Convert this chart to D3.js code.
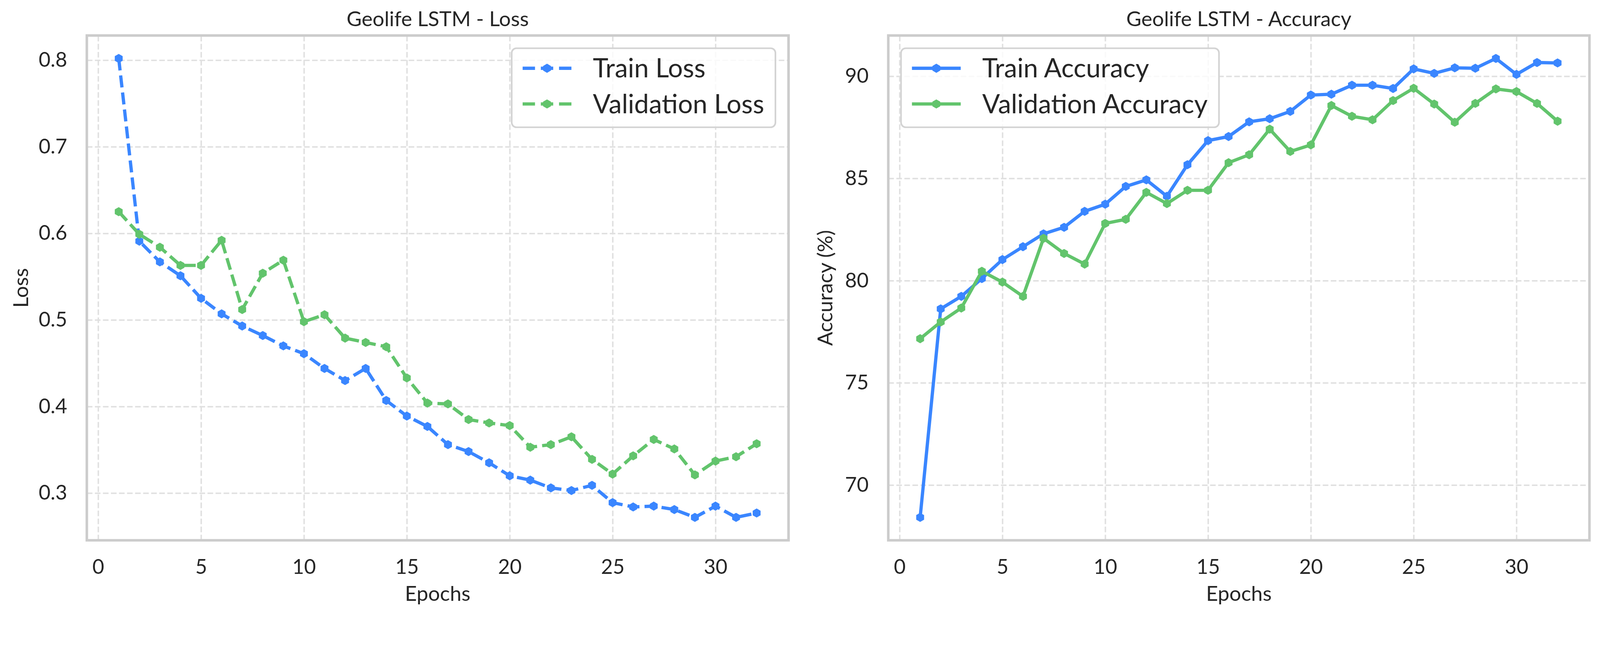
<!DOCTYPE html>
<html>
<head>
<meta charset="utf-8">
<script src="https://cdn.jsdelivr.net/npm/d3@7"></script>
<style>
  html, body { margin: 0; padding: 0; background: #fff; overflow: hidden; width: 100%; height: 100%; }
  #chart { display: block; width: 100vw; height: 100vh; }
  svg text { font-family: Lato, "Open Sans", sans-serif; fill: #262626; }
</style>
</head>
<body>
<svg id="chart" viewBox="0 0 4395 1692" preserveAspectRatio="xMidYMin meet"></svg>
<script>
var epochs = [1, 2, 3, 4, 5, 6, 7, 8, 9, 10, 11, 12, 13, 14, 15, 16,
              17, 18, 19, 20, 21, 22, 23, 24, 25, 26, 27, 28, 29, 30, 31, 32];

var trainLoss = [0.802, 0.591, 0.567, 0.551, 0.525, 0.507, 0.493, 0.482, 0.470, 0.461, 0.444,
                 0.430, 0.444, 0.407, 0.389, 0.377, 0.356, 0.348, 0.335, 0.320, 0.315, 0.306,
                 0.303, 0.309, 0.289, 0.284, 0.285, 0.281, 0.272, 0.285, 0.272, 0.277];
var valLoss = [0.625, 0.599, 0.584, 0.563, 0.563, 0.592, 0.512, 0.554, 0.569, 0.498, 0.506,
               0.479, 0.474, 0.469, 0.433, 0.404, 0.403, 0.385, 0.381, 0.378, 0.353, 0.356,
               0.365, 0.339, 0.322, 0.343, 0.362, 0.351, 0.321, 0.337, 0.342, 0.357];

var trainAcc = [68.42, 78.62, 79.23, 80.10, 81.03, 81.66, 82.29, 82.61, 83.39, 83.74, 84.61,
                84.93, 84.13, 85.67, 86.85, 87.05, 87.77, 87.92, 88.28, 89.08, 89.12, 89.56,
                89.56, 89.40, 90.36, 90.14, 90.41, 90.39, 90.87, 90.09, 90.67, 90.65];
var valAcc = [77.16, 77.98, 78.66, 80.46, 79.93, 79.23, 82.07, 81.33, 80.81, 82.80, 83.00,
              84.32, 83.77, 84.42, 84.42, 85.77, 86.16, 87.41, 86.32, 86.64, 88.57, 88.04,
              87.87, 88.81, 89.41, 88.64, 87.75, 88.67, 89.38, 89.25, 88.67, 87.80];

var epochTicks = [0, 5, 10, 15, 20, 25, 30];
var lossTicks = [0.3, 0.4, 0.5, 0.6, 0.7, 0.8];
var accTicks = [70, 75, 80, 85, 90];

var blue = '#3a86ff', green = '#62c46c';

var svg = d3.select('#chart');

// matplotlib style autoscale: 5% margin each side
function padded(values) {
  var ext = d3.extent(values), m = (ext[1] - ext[0]) * 0.05;
  return [ext[0] - m, ext[1] + m];
}

function hexagon(r) {
  var pts = [];
  for (var k = 0; k < 6; k++) {
    var a = Math.PI / 180 * (90 + 60 * k);
    pts.push([r * Math.cos(a), r * Math.sin(a)]);
  }
  return d3.line()(pts) + 'Z';
}

function drawPanel(cfg) {
  var top = 97.5, bottom = 1484;
  var x = d3.scaleLinear().domain(padded(epochs)).range([cfg.left, cfg.right]);
  var allY = [];
  cfg.series.forEach(function(s) { allY = allY.concat(s.values); });
  var y = d3.scaleLinear().domain(padded(allY)).range([bottom, top]);
  var g = svg.append('g');

  // grid
  var gx = g.append('g').attr('transform', 'translate(0,' + bottom + ')')
    .call(d3.axisBottom(x).tickValues(epochTicks).tickSize(-(bottom - top)).tickFormat(''));
  var gy = g.append('g').attr('transform', 'translate(' + cfg.left + ',0)')
    .call(d3.axisLeft(y).tickValues(cfg.yTicks).tickSize(-(cfg.right - cfg.left)).tickFormat(''));
  [gx, gy].forEach(function(a) {
    a.select('.domain').remove();
    a.selectAll('line').attr('stroke', '#e0e0e0').attr('stroke-width', 4)
      .attr('stroke-dasharray', '15.4,6.7');
  });

  // tick labels
  var ax = g.append('g').attr('transform', 'translate(0,' + bottom + ')')
    .call(d3.axisBottom(x).tickValues(epochTicks).tickSize(0).tickPadding(53));
  var ay = g.append('g').attr('transform', 'translate(' + cfg.left + ',0)')
    .call(d3.axisLeft(y).tickValues(cfg.yTicks).tickSize(0).tickPadding(54).tickFormat(cfg.fmt));
  [ax, ay].forEach(function(a) {
    a.select('.domain').remove();
    a.selectAll('text').attr('font-size', 56).attr('font-family', null).style('fill', '#262626');
  });

  // frame
  g.append('rect').attr('x', cfg.left).attr('y', top)
    .attr('width', cfg.right - cfg.left).attr('height', bottom - top)
    .attr('fill', 'none').attr('stroke', '#cccccc').attr('stroke-width', 7);

  // series
  var line = d3.line().x(function(d, i) { return x(epochs[i]); }).y(function(d) { return y(d); });
  cfg.series.forEach(function(s) {
    g.append('path').datum(s.values).attr('d', line)
      .attr('fill', 'none').attr('stroke', s.color).attr('stroke-width', 9)
      .attr('stroke-dasharray', cfg.dash);
    g.selectAll(null).data(s.values).enter().append('path')
      .attr('d', hexagon(12.5))
      .attr('transform', function(d, i) { return 'translate(' + x(epochs[i]) + ',' + y(d) + ')'; })
      .attr('fill', s.color);
  });

  // texts
  g.append('text').attr('x', (cfg.left + cfg.right) / 2).attr('y', 72)
    .attr('text-anchor', 'middle').attr('font-size', 57).text(cfg.title);
  g.append('text').attr('x', (cfg.left + cfg.right) / 2).attr('y', 1650)
    .attr('text-anchor', 'middle').attr('font-size', 57).text('Epochs');
  g.append('text').attr('transform', 'translate(' + (cfg.left - cfg.ylabelOff) + ',' + (top + bottom) / 2 + ') rotate(-90)')
    .attr('text-anchor', 'middle').attr('font-size', 57).text(cfg.ylabel);

  // legend
  var lg = g.append('g');
  var box = lg.append('rect').attr('rx', 13).attr('ry', 13)
    .attr('fill', 'white').attr('fill-opacity', 0.8)
    .attr('stroke', '#d3d3d3').attr('stroke-width', 4.5);
  var maxW = 0;
  cfg.series.forEach(function(s, i) {
    var cy = 55 + i * 98;
    lg.append('line').attr('x1', 30).attr('x2', 164).attr('y1', cy).attr('y2', cy)
      .attr('stroke', s.color).attr('stroke-width', 9).attr('stroke-dasharray', cfg.legendDash);
    lg.append('path').attr('d', hexagon(12.5)).attr('transform', 'translate(97,' + cy + ')')
      .attr('fill', s.color);
    var t = lg.append('text').attr('x', 223).attr('y', cy).attr('dy', '0.35em')
      .attr('font-size', 72).text(s.name);
    maxW = Math.max(maxW, t.node().getComputedTextLength());
  });
  var bw = 223 + maxW + 31, bh = 217;
  box.attr('width', bw).attr('height', bh);
  var bx = cfg.legendRight ? cfg.right - 36 - bw : cfg.left + 35;
  lg.attr('transform', 'translate(' + bx + ',' + (top + 35) + ')');
}

drawPanel({
  left: 238.5, right: 2166, title: 'Geolife LSTM - Loss', ylabel: 'Loss', ylabelOff: 161,
  yTicks: lossTicks, fmt: d3.format('.1f'), dash: '33,14', legendDash: '34,16',
  legendRight: true,
  series: [
    {name: 'Train Loss', values: trainLoss, color: blue},
    {name: 'Validation Loss', values: valLoss, color: green}
  ]
});

drawPanel({
  left: 2440, right: 4366, title: 'Geolife LSTM - Accuracy', ylabel: 'Accuracy (%)', ylabelOff: 153,
  yTicks: accTicks, fmt: d3.format('d'), dash: null, legendDash: null,
  legendRight: false,
  series: [
    {name: 'Train Accuracy', values: trainAcc, color: blue},
    {name: 'Validation Accuracy', values: valAcc, color: green}
  ]
});
</script>
</body>
</html>
